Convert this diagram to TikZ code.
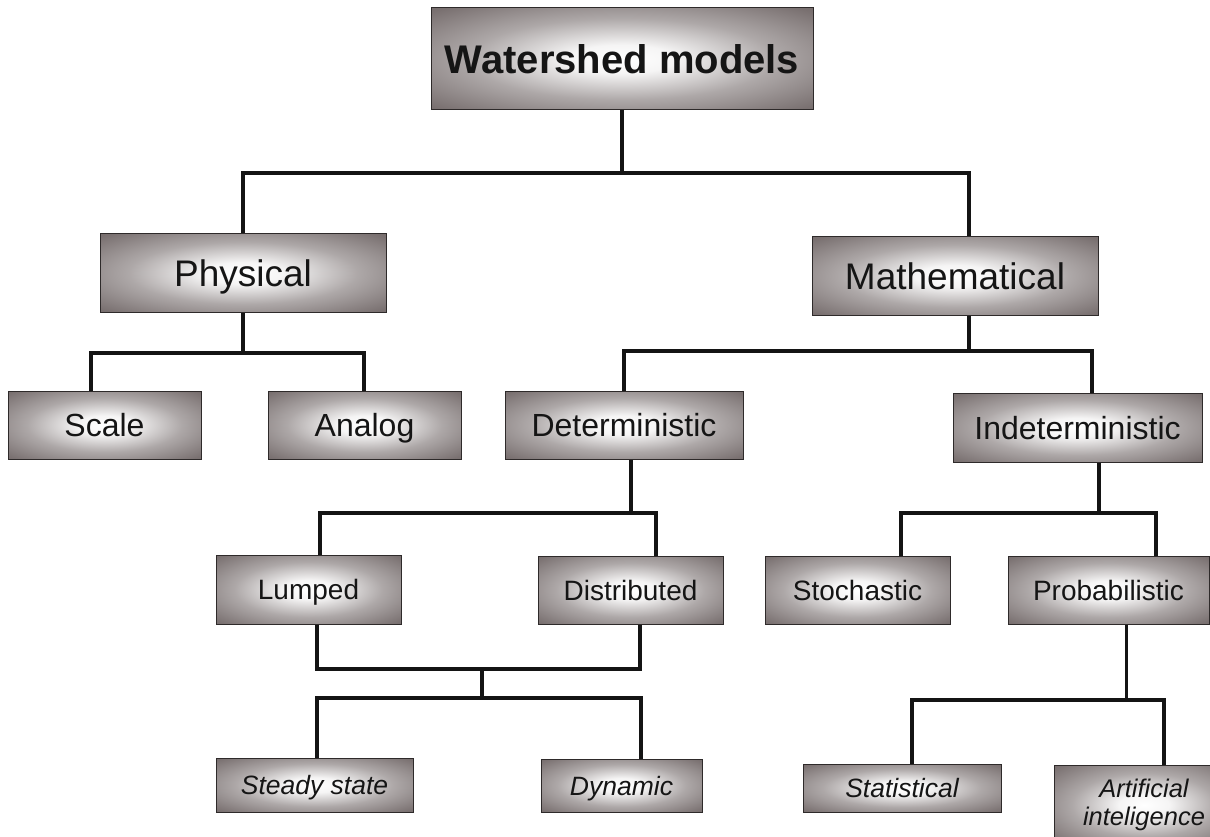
\documentclass[tikz,border=0pt]{standalone}
\usepackage{fontspec}
\setmainfont{Liberation Sans}
\usepackage{xcolor}
\usepackage{tikz}
\usetikzlibrary{positioning}
\definecolor{boxedge}{HTML}{5C5151}
\definecolor{boxline}{HTML}{2E2A2A}
\definecolor{linkgray}{HTML}{141414}
\definecolor{textgray}{HTML}{151515}
\pgfdeclareradialshading{boxshade}{\pgfpoint{0bp}{0bp}}{%
  color(0bp)=(white); color(7bp)=(white!94!boxedge);
  color(20bp)=(boxedge!50!white); color(34bp)=(boxedge!82!white);
  color(48bp)=(boxedge); color(75bp)=(boxedge)}

\begin{document}
\begin{tikzpicture}[
  x=1pt, y=-1pt,
  box/.style={draw=boxline, line width=1pt, shading=boxshade, inner sep=0pt,
              align=center, text=textgray},
  toplevel/.style={box, font=\fontsize{40}{44}\selectfont\bfseries,
                   text height=29pt, text depth=0pt},
  branch/.style={box, font=\fontsize{37}{40}\selectfont,
                 text height=27pt, text depth=0pt},
  kind/.style={box, font=\fontsize{32}{36}\selectfont,
               text height=23pt, text depth=0pt},
  subkind/.style={box, font=\fontsize{28}{32}\selectfont,
                  text height=20pt, text depth=0pt},
  leaf/.style={box, font=\fontsize{26.5}{28}\selectfont\itshape},
  leafone/.style={leaf, text height=19pt, text depth=0pt},
  link/.style={draw=linkgray, line width=3.8pt}
]
  \useasboundingbox (0,0) rectangle (1210,837);
  \clip (0,0) rectangle (1210,837);

  \node[toplevel, minimum width=382pt, minimum height=102pt] (ws) at (622,59) {Watershed models};
  \node[branch, minimum width=286pt, minimum height=78pt] (phys) at (243,273) {Physical};
  \node[branch, minimum width=286pt, minimum height=78pt] (math) at (955,276) {Mathematical};
  \node[kind, minimum width=193pt, minimum height=68pt] (scale) at (104.5,425) {Scale};
  \node[kind, minimum width=193pt, minimum height=68pt] (analog) at (364.5,425) {Analog};
  \node[kind, minimum width=238pt, minimum height=68pt] (det) at (624,425) {Deterministic};
  \node[kind, minimum width=249pt, minimum height=69pt] (indet) at (1077.5,427.5) {Indeterministic};
  \node[subkind, minimum width=185pt, minimum height=69pt] (lumped) at (308.5,589.5) {Lumped};
  \node[subkind, minimum width=185pt, minimum height=68pt] (distr) at (630.5,590) {Distributed};
  \node[subkind, minimum width=185pt, minimum height=68pt] (stoch) at (857.5,590) {Stochastic};
  \node[subkind, minimum width=201pt, minimum height=68pt] (prob) at (1108.5,590) {Probabilistic};
  \node[leafone, minimum width=197pt, minimum height=54pt] (steady) at (314.5,785) {Steady state};
  \node[leafone, minimum width=161pt, minimum height=53pt] (dyn) at (621.5,785.5) {Dynamic};
  \node[leafone, minimum width=198pt, minimum height=48pt] (stat) at (902,788) {Statistical};
  \node[leaf, font=\fontsize{25.5}{28}\selectfont\itshape, minimum width=180pt,
        minimum height=80pt] (ai) at (1144,805) {Artificial\\inteligence};

  % junction points of the tree
  \coordinate (bar1) at (622,173);
  \coordinate (bar2) at (243,353);
  \coordinate (bar3) at (969,351);
  \coordinate (bar4) at (631,513);
  \coordinate (bar5) at (482,669);
  \coordinate (bar6) at (482,698);
  \coordinate (bar7) at (1099,513);
  \coordinate (bar8) at (1126.5,700);

  \draw[link] (ws) -- (bar1);
  \draw[link] (phys.north) |- (bar1) -| ([xshift=14pt]math.north);
  \draw[link] (phys) -- (bar2);
  \draw[link] ([xshift=-13.5pt]scale.north) |- (bar2) -| ([xshift=-0.5pt]analog.north);
  \draw[link] ([xshift=14pt]math.south) -- (bar3);
  \draw[link] (det.north) |- (bar3) -| ([xshift=14.5pt]indet.north);
  \draw[link] ([xshift=7pt]det.south) -- (bar4);
  \draw[link] ([xshift=11.5pt]lumped.north) |- (bar4) -| ([xshift=25.5pt]distr.north);
  \draw[link] ([xshift=8.5pt]lumped.south) |- (bar5) -| ([xshift=9.5pt]distr.south);
  \draw[link] (bar5) -- (bar6);
  \draw[link] ([xshift=2.5pt]steady.north) |- (bar6) -| ([xshift=19.5pt]dyn.north);
  \draw[link] ([xshift=21.5pt]indet.south) -- (bar7);
  \draw[link] ([xshift=43.5pt]stoch.north) |- (bar7) -| ([xshift=47.5pt]prob.north);
  \draw[link] ([xshift=18pt]prob.south) -- (bar8);
  \draw[link] ([xshift=10pt]stat.north) |- (bar8) -| ([xshift=20pt]ai.north);
\end{tikzpicture}
\end{document}
